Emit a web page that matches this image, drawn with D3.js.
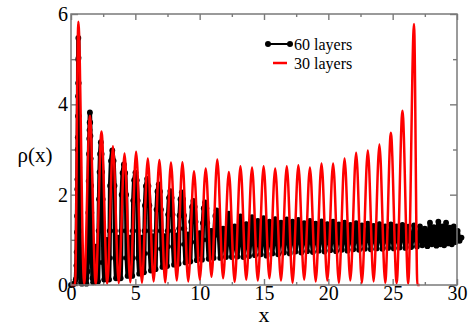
<!DOCTYPE html>
<html>
<head>
<meta charset="utf-8">
<script src="https://cdn.jsdelivr.net/npm/d3@7"></script>
<style>
    body { margin: 0; background: #fff; }
</style>
</head>
<body>
<svg id="chart"></svg>
<script>
const W = 473, H = 326;
const MARGIN = {top: 14, left: 71};
const width = 386, height = 271;
const FRAME = "#7a7a7a";
const SERIF = "Liberation Serif";

const xTicks = [0, 5, 10, 15, 20, 25, 30];
const xMinor = [2.5, 7.5, 12.5, 17.5, 22.5, 27.5];
const yTicks = [0, 2, 4, 6];
const yMinor = [1, 3, 5];

// 30 layers: peaks and troughs
const red30 = [
    [0, 0], [0.32, 0],
    [0.57, 5.83], [1.02, 0.02], [1.47, 3.75], [1.92, 0.02], [2.37, 3.40], [2.82, 0.03],
    [3.26, 3.07], [3.71, 0.04], [4.16, 2.91], [4.61, 0.06], [5.06, 2.95], [5.51, 0.05],
    [5.97, 2.80], [6.42, 0.08], [6.87, 2.77], [7.32, 0.06], [7.77, 2.71], [8.22, 0.10],
    [8.66, 2.72], [9.11, 0.08], [9.56, 2.52], [10.01, 0.12], [10.47, 2.58], [10.92, 0.18],
    [11.37, 2.78], [11.82, 0.15], [12.27, 2.50], [12.72, 0.07], [13.17, 2.63], [13.62, 0.12],
    [14.07, 2.60], [14.52, 0.10], [14.97, 2.63], [15.42, 0.15], [15.87, 2.58], [16.32, 0.10],
    [16.77, 2.63], [17.22, 0.05], [17.67, 2.65], [18.12, 0.12], [18.57, 2.60], [19.02, 0.08],
    [19.47, 2.69], [19.92, 0.10], [20.37, 2.69], [20.82, 0.05], [21.26, 2.80], [21.71, 0.10],
    [22.16, 2.93], [22.61, 0.05], [23.07, 2.98], [23.52, 0.08], [23.97, 3.11], [24.42, 0.05],
    [24.86, 3.37], [25.31, 0.04], [25.76, 3.86], [26.21, 0.03], [26.66, 5.78], [26.92, 0],
    [27.10, 0]
];

// 60 layers: symbol positions (first peaks), then peaks/troughs
const black60 = [
    [0, 0], [0.1, 0.01], [0.2, 0.02], [0.3, 0.04], [0.38, 0.13],
    [0.42, 0.43], [0.44, 0.73], [0.46, 1.17], [0.47, 1.53], [0.49, 2.12], [0.50, 2.34],
    [0.52, 3.0], [0.53, 3.27], [0.54, 3.74], [0.55, 4.18], [0.555, 4.47], [0.56, 4.99],
    [0.57, 5.47], [0.585, 5.03], [0.60, 4.47], [0.61, 3.74], [0.62, 3.27], [0.635, 2.6],
    [0.65, 1.9], [0.67, 1.2], [0.69, 0.6], [0.72, 0.2], [0.78, 0.05], [0.85, 0.03],
    [1.02, 0.40], [1.20, 0.03],
    [1.28, 0.3], [1.32, 0.9], [1.35, 1.6], [1.37, 2.3], [1.40, 2.9], [1.42, 3.24],
    [1.44, 3.43], [1.45, 3.6], [1.47, 3.82], [1.49, 3.6], [1.51, 3.3], [1.53, 2.8],
    [1.56, 2.2], [1.58, 1.6], [1.61, 1.0], [1.64, 0.5], [1.67, 0.15], [1.72, 0.06],
    [1.92, 0.85], [2.10, 0.08],
    [2.13, 0.5], [2.15, 1.2], [2.18, 1.9], [2.22, 2.5], [2.26, 2.9], [2.32, 3.16],
    [2.38, 2.9], [2.42, 2.5], [2.46, 1.9], [2.49, 1.2], [2.52, 0.5], [2.58, 0.12],
    [2.78, 1.0], [2.96, 0.12],
    [2.99, 0.6], [3.01, 1.2], [3.04, 2.2], [3.11, 2.75], [3.21, 2.98], [3.31, 2.75],
    [3.38, 2.2], [3.41, 1.2], [3.43, 0.6], [3.50, 0.15],
    [3.68, 1.05], [3.86, 0.15],
    [3.89, 0.6], [3.91, 1.2], [3.94, 2.0], [4.01, 2.48], [4.11, 2.67], [4.21, 2.48],
    [4.28, 2.0], [4.31, 1.2], [4.33, 0.6], [4.40, 0.2],
    [4.58, 1.05], [4.76, 0.2],
    [4.79, 0.6], [4.81, 1.2], [4.84, 1.87], [4.91, 2.32], [5.01, 2.49], [5.11, 2.32],
    [5.18, 1.87], [5.21, 1.2], [5.23, 0.6], [5.30, 0.25],
    [5.48, 1.05], [5.67, 0.28],
    [5.70, 0.7], [5.72, 1.2], [5.75, 1.76], [5.82, 2.19], [5.92, 2.35], [6.02, 2.19],
    [6.09, 1.76], [6.12, 1.2], [6.14, 0.7], [6.21, 0.32],
    [6.39, 1.08], [6.57, 0.35],
    [6.60, 0.8], [6.62, 1.2], [6.65, 1.67], [6.72, 2.07], [6.82, 2.23], [6.92, 2.07],
    [6.99, 1.67], [7.02, 1.2], [7.04, 0.8], [7.11, 0.4],
    [7.29, 1.08], [7.47, 0.42],
    [7.50, 0.85], [7.52, 1.2], [7.55, 1.56], [7.62, 1.93], [7.72, 2.08], [7.82, 1.93],
    [7.89, 1.56], [7.92, 1.2], [7.94, 0.85], [8.01, 0.45],
    [8.19, 1.1], [8.36, 0.47],
    [8.39, 0.9], [8.41, 1.25], [8.44, 1.54], [8.51, 1.9], [8.61, 2.05], [8.71, 1.9],
    [8.78, 1.54], [8.81, 1.25], [8.83, 0.9], [8.90, 0.5],
    [9.09, 1.12], [9.27, 0.52],
    [9.31, 0.95], [9.34, 1.4], [9.41, 1.73], [9.51, 1.86], [9.61, 1.73], [9.68, 1.4], [9.71, 0.95], [9.78, 0.55],
    [9.99, 1.15], [10.18, 0.56],
    [10.22, 1.0], [10.25, 1.37], [10.32, 1.7], [10.42, 1.83], [10.52, 1.7], [10.59, 1.37], [10.62, 1.0], [10.70, 0.58],
    [10.90, 1.2], [11.08, 0.6],
    [11.14, 1.1], [11.22, 1.53], [11.32, 1.65], [11.42, 1.53], [11.50, 1.1], [11.60, 0.6],
    [11.82, 1.25], [12.04, 0.62], [12.27, 1.58], [12.50, 0.62], [12.72, 1.3], [12.94, 0.63],
    [13.17, 1.52], [13.40, 0.62], [13.62, 1.35], [13.84, 0.64],
    [14.07, 1.50], [14.30, 0.66], [14.52, 1.42], [14.75, 0.68], [14.97, 1.48], [15.20, 0.65],
    [15.42, 1.40], [15.65, 0.70], [15.87, 1.46], [16.10, 0.68], [16.32, 1.38], [16.55, 0.72],
    [16.77, 1.45], [17.00, 0.70], [17.22, 1.40], [17.45, 0.74], [17.67, 1.44], [17.90, 0.72],
    [18.12, 1.37], [18.35, 0.75], [18.57, 1.42], [18.80, 0.73], [19.02, 1.36], [19.25, 0.76],
    [19.47, 1.41], [19.70, 0.74], [19.92, 1.35], [20.15, 0.77], [20.37, 1.40], [20.60, 0.75],
    [20.82, 1.34], [21.05, 0.78], [21.26, 1.38], [21.49, 0.76], [21.71, 1.33], [21.94, 0.79],
    [22.16, 1.37], [22.39, 0.78], [22.61, 1.32], [22.84, 0.80], [23.07, 1.36], [23.30, 0.79],
    [23.52, 1.31], [23.75, 0.81], [23.97, 1.35], [24.20, 0.80], [24.42, 1.30], [24.65, 0.82],
    [24.86, 1.34], [25.09, 0.81], [25.31, 1.30], [25.54, 0.83], [25.76, 1.33], [25.99, 0.82],
    [26.21, 1.29], [26.44, 0.84], [26.66, 1.32], [26.89, 0.85],
    [27.12, 1.30], [27.30, 0.88], [27.50, 1.25], [27.70, 0.86], [27.90, 1.38], [28.05, 0.90],
    [28.20, 1.28], [28.40, 0.87], [28.55, 1.40], [28.70, 0.90], [28.85, 1.30], [29.00, 0.88],
    [29.15, 1.38], [29.30, 0.92], [29.45, 1.27], [29.60, 0.90], [29.75, 1.30], [29.90, 0.95],
    [30.05, 1.20], [30.20, 0.98], [30.35, 1.05]
];

const svg = d3.select("#chart").attr("width", W).attr("height", H);
const node = svg.append("g")
    .attr("transform", "translate(" + MARGIN.left + "," + MARGIN.top + ")");

const x = d3.scaleLinear().domain([0, 30]).range([0, width]);
const y = d3.scaleLinear().domain([0, 6]).range([height, 0]);

function styleAxis(g) {
    g.attr("font-family", SERIF).attr("font-size", 20);
    g.select(".domain").remove();
    g.selectAll(".tick line").attr("stroke", FRAME).attr("stroke-width", 1.4);
    g.selectAll("text").attr("fill", "#000");
}

// ticks on all four sides, pointing inward
function xAxes(values, len, labels) {
    const b = node.append("g").attr("transform", "translate(0," + height + ")")
        .call(d3.axisBottom(x).tickValues(values).tickSizeInner(-len).tickSizeOuter(0)
            .tickPadding(1).tickFormat(labels ? d3.format("d") : ""));
    const t = node.append("g")
        .call(d3.axisTop(x).tickValues(values).tickSizeInner(-len).tickSizeOuter(0).tickFormat(""));
    styleAxis(b);
    styleAxis(t);
}

function yAxes(values, len, labels) {
    const l = node.append("g")
        .call(d3.axisLeft(y).tickValues(values).tickSizeInner(-len).tickSizeOuter(0)
            .tickPadding(3).tickFormat(labels ? d3.format("d") : ""));
    const r = node.append("g").attr("transform", "translate(" + width + ",0)")
        .call(d3.axisRight(y).tickValues(values).tickSizeInner(-len).tickSizeOuter(0).tickFormat(""));
    styleAxis(l);
    styleAxis(r);
}

xAxes(xTicks, 6, true);
xAxes(xMinor, 3, false);
yAxes(yTicks, 7, true);
yAxes(yMinor, 4, false);

// 60 layers: line with circle symbols
const lineLin = d3.line().x(d => x(d[0])).y(d => y(d[1]));
node.append("path")
    .datum(black60)
    .attr("id", "60 layers")
    .attr("fill", "none")
    .attr("stroke", "#000")
    .attr("stroke-width", 4.4)
    .attr("stroke-linejoin", "round")
    .attr("d", lineLin);

node.selectAll("circle.b60")
    .data(black60)
    .enter().append("circle")
    .attr("class", "b60")
    .attr("cx", d => x(d[0]))
    .attr("cy", d => y(d[1]))
    .attr("r", 2.9)
    .attr("fill", "#000");

// 30 layers: red line
const lineSmooth = d3.line().x(d => x(d[0])).y(d => y(d[1])).curve(d3.curveMonotoneX);
node.append("path")
    .datum(red30)
    .attr("id", "30 layers")
    .attr("fill", "none")
    .attr("stroke", "#ff0000")
    .attr("stroke-width", 2.5)
    .attr("stroke-linejoin", "round")
    .attr("d", lineSmooth);

// frame
node.append("rect")
    .attr("width", width)
    .attr("height", height)
    .attr("fill", "none")
    .attr("stroke", FRAME)
    .attr("stroke-width", 1.5);

// axis titles
svg.append("text")
    .attr("x", MARGIN.left + width / 2)
    .attr("y", 322)
    .attr("text-anchor", "middle")
    .style("font-family", SERIF)
    .style("font-size", "22px")
    .text("x");

svg.append("text")
    .attr("x", 35)
    .attr("y", 162)
    .attr("text-anchor", "middle")
    .style("font-family", SERIF)
    .style("font-size", "21px")
    .text("ρ(x)");

// legend
const legend = svg.append("g").attr("id", "Legend");
legend.append("line")
    .attr("x1", 268).attr("x2", 290).attr("y1", 44).attr("y2", 44)
    .attr("stroke", "#000").attr("stroke-width", 2);
[268, 290].forEach(cx => legend.append("circle")
    .attr("cx", cx).attr("cy", 44).attr("r", 3).attr("fill", "#000"));
legend.append("text").attr("x", 294).attr("y", 50)
    .style("font-family", SERIF).style("font-size", "16px").text("60 layers");

legend.append("line")
    .attr("x1", 273).attr("x2", 287).attr("y1", 63).attr("y2", 63)
    .attr("stroke", "#ff0000").attr("stroke-width", 2.5);
legend.append("text").attr("x", 294).attr("y", 69)
    .style("font-family", SERIF).style("font-size", "16px").text("30 layers");
</script>
</body>
</html>
